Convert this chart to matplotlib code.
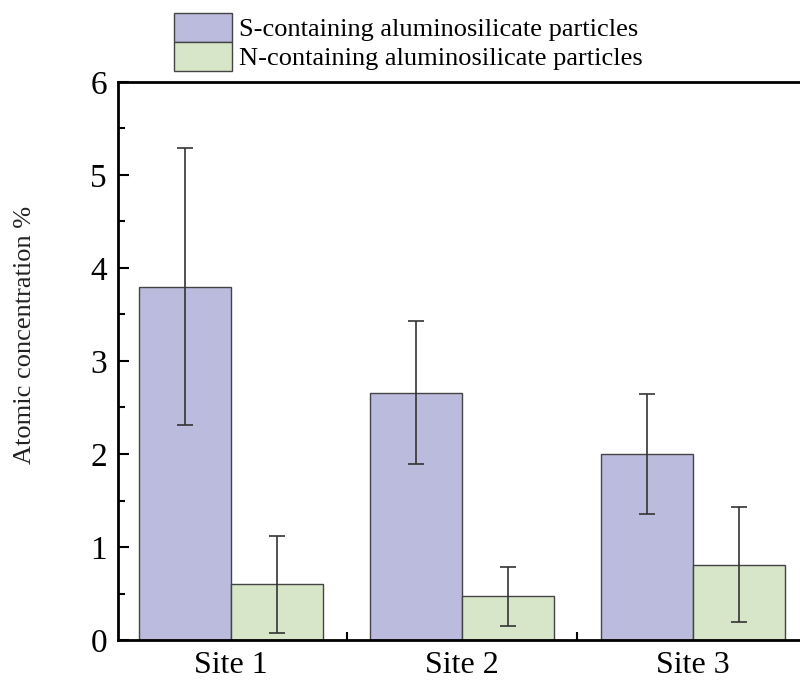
import matplotlib
matplotlib.use("Agg")
import matplotlib.pyplot as plt
import numpy as np
from matplotlib.patches import Patch
from matplotlib.ticker import MultipleLocator, FixedLocator

plt.rcParams['font.family'] = ['Liberation Serif', 'DejaVu Serif']

sites = ["Site 1", "Site 2", "Site 3"]
s_vals = [3.80, 2.66, 2.00]
s_err = [1.49, 0.77, 0.65]
n_vals = [0.60, 0.47, 0.81]
n_err = [0.52, 0.32, 0.62]
labels = ["S-containing aluminosilicate particles", "N-containing aluminosilicate particles"]
colors = ["#BBBBDE", "#D7E5C9"]

fig = plt.figure(figsize=(8, 6.81), dpi=100)
ax = fig.add_axes([0.1475, 0.0602, 0.86, 0.8194])

x = np.arange(1, len(sites) + 1)
w = 0.4
ekw = dict(ecolor="#333333", elinewidth=1.2, capsize=5.5, capthick=1.2)
ax.bar(x - w/2, s_vals, w, yerr=s_err, color=colors[0], edgecolor="#444444", linewidth=1.0, error_kw=ekw, zorder=2)
ax.bar(x + w/2, n_vals, w, yerr=n_err, color=colors[1], edgecolor="#444444", linewidth=1.0, error_kw=ekw, zorder=2)

ax.set_xlim(0.51, 3.49)
ax.set_ylim(0, 6)
ax.set_xticks(x)
ax.set_xticklabels(sites, fontsize=23)
ax.xaxis.set_minor_locator(FixedLocator([1.5, 2.5]))
ax.yaxis.set_major_locator(MultipleLocator(1))
ax.yaxis.set_minor_locator(MultipleLocator(0.5))
ax.tick_params(axis='y', which='major', direction='in', length=8, width=1.5, labelsize=24, pad=8)
ax.tick_params(axis='y', which='minor', direction='in', length=5, width=1.5)
ax.tick_params(axis='x', which='major', direction='in', length=6, width=1.5, pad=8)
ax.tick_params(axis='x', which='minor', direction='in', length=6, width=1.5)
ax.set_ylabel("Atomic concentration %", fontsize=19, color="#222222")
ax.yaxis.set_label_coords(-0.119, 0.547)
for sp in ['left', 'bottom', 'top']:
    ax.spines[sp].set_linewidth(2)
ax.spines['right'].set_visible(False)

handles = [Patch(facecolor=colors[0], edgecolor="#444444", linewidth=1.0),
           Patch(facecolor=colors[1], edgecolor="#444444", linewidth=1.0)]
fig.legend(handles, labels, loc='upper left', bbox_to_anchor=(0.201, 1.0), frameon=False,
           fontsize=19, handlelength=2.2, handleheight=1.3, labelspacing=0.0,
           handletextpad=0.25, borderaxespad=0.1)

fig.savefig("out.png", dpi=100)
